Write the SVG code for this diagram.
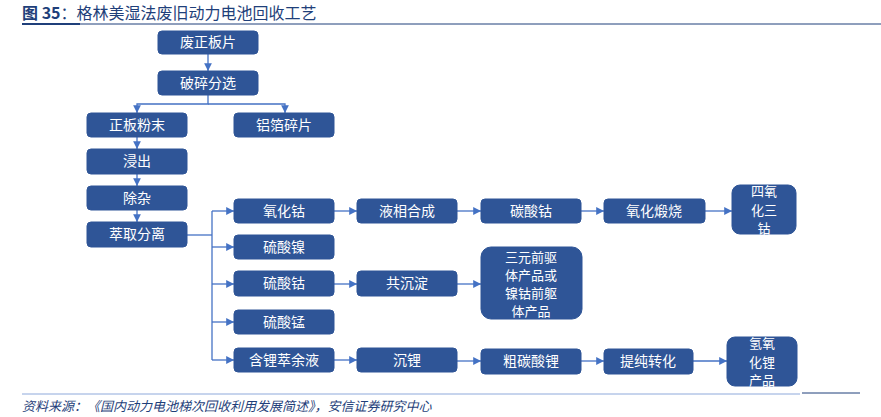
<svg xmlns="http://www.w3.org/2000/svg" width="881" height="417" viewBox="0 0 881 417">
<style>
.n rect{fill:#2f5597;stroke:#2f5597}
.n text{fill:#fff;font-family:"Noto Sans CJK SC",sans-serif;font-size:14px;text-anchor:middle}
.n .s{font-size:13px}
.c path{fill:none;stroke:#4472c4;stroke-width:1.3}
</style>
<defs><marker id="a" viewBox="0 0 10 10" refX="10" refY="5" markerWidth="6" markerHeight="6" orient="auto"><path d="M0,0L10,5L0,10z" fill="#4472c4"/></marker></defs>
<rect width="881" height="417" fill="#fff"/>
<text x="22" y="19" font-family="Noto Sans CJK SC,sans-serif" font-size="16" fill="#1f3f7a"><tspan font-weight="bold">图 35</tspan>：格林美湿法废旧动力电池回收工艺</text>
<line x1="22" y1="24" x2="881" y2="24" stroke="#1f3f7a" stroke-width="1"/>
<line x1="22" y1="24" x2="80" y2="24" stroke="#1f3f7a" stroke-width="2"/>
<g class="c">
<path d="M208,54V71" marker-end="url(#a)"/>
<path d="M208,95V104H137V113" marker-end="url(#a)"/>
<path d="M208,104H285V113" marker-end="url(#a)"/>
<path d="M137,137V149" marker-end="url(#a)"/>
<path d="M137,174V186" marker-end="url(#a)"/>
<path d="M137,210V222" marker-end="url(#a)"/>
<path d="M187,235H212"/>
<path d="M212,211V360"/>
<path d="M212,211H234" marker-end="url(#a)"/>
<path d="M212,247H234" marker-end="url(#a)"/>
<path d="M212,284H234" marker-end="url(#a)"/>
<path d="M212,322H234" marker-end="url(#a)"/>
<path d="M212,360H234" marker-end="url(#a)"/>
<path d="M334,211H357" marker-end="url(#a)"/>
<path d="M457,211H481" marker-end="url(#a)"/>
<path d="M581,211H604" marker-end="url(#a)"/>
<path d="M705,211H732" marker-end="url(#a)"/>
<path d="M334,284H357" marker-end="url(#a)"/>
<path d="M457,284H481" marker-end="url(#a)"/>
<path d="M334,360H357" marker-end="url(#a)"/>
<path d="M457,361H481" marker-end="url(#a)"/>
<path d="M581,361H604" marker-end="url(#a)"/>
<path d="M693,361H727" marker-end="url(#a)"/>
</g>
<g id="n1" class="n"><rect x="158" y="31" width="100" height="23" rx="4"/><text x="208" y="47">废正板片</text></g>
<g id="n2" class="n"><rect x="158" y="71" width="100" height="24" rx="4"/><text x="208" y="88">破碎分选</text></g>
<g id="n3" class="n"><rect x="87" y="113" width="100" height="24" rx="4"/><text x="137" y="130">正板粉末</text></g>
<g id="n4" class="n"><rect x="234" y="113" width="100" height="24" rx="4"/><text x="284" y="130">铝箔碎片</text></g>
<g id="n5" class="n"><rect x="87" y="149" width="100" height="25" rx="4"/><text x="137" y="166">浸出</text></g>
<g id="n6" class="n"><rect x="87" y="186" width="100" height="24" rx="4"/><text x="137" y="203">除杂</text></g>
<g id="n7" class="n"><rect x="87" y="222" width="100" height="25" rx="4"/><text x="137" y="239">萃取分离</text></g>
<g id="n8" class="n"><rect x="234" y="199" width="100" height="24" rx="4"/><text x="284" y="216">氧化钴</text></g>
<g id="n9" class="n"><rect x="357" y="199" width="100" height="24" rx="4"/><text x="407" y="216">液相合成</text></g>
<g id="n10" class="n"><rect x="481" y="199" width="100" height="24" rx="4"/><text x="531" y="216">碳酸钴</text></g>
<g id="n11" class="n"><rect x="604" y="199" width="101" height="24" rx="4"/><text x="654" y="216">氧化煅烧</text></g>
<g id="n12" class="n"><rect x="732" y="185" width="64" height="49" rx="8"/><text class="s" x="764" y="196">四氧</text><text class="s" x="764" y="215">化三</text><text class="s" x="764" y="233">钴</text></g>
<g id="n13" class="n"><rect x="234" y="235" width="100" height="24" rx="4"/><text x="284" y="252">硫酸镍</text></g>
<g id="n14" class="n"><rect x="234" y="271" width="100" height="25" rx="4"/><text x="284" y="288">硫酸钴</text></g>
<g id="n15" class="n"><rect x="357" y="271" width="100" height="25" rx="4"/><text x="407" y="288">共沉淀</text></g>
<g id="n16" class="n"><rect x="481" y="247" width="101" height="72" rx="10"/><text class="s" x="531" y="262">三元前驱</text><text class="s" x="531" y="280">体产品或</text><text class="s" x="531" y="298">镍钴前躯</text><text class="s" x="531" y="316">体产品</text></g>
<g id="n17" class="n"><rect x="234" y="310" width="100" height="24" rx="4"/><text x="284" y="327">硫酸锰</text></g>
<g id="n18" class="n"><rect x="234" y="348" width="100" height="24" rx="4"/><text x="284" y="365">含锂萃余液</text></g>
<g id="n19" class="n"><rect x="357" y="348" width="100" height="24" rx="4"/><text x="407" y="365">沉锂</text></g>
<g id="n20" class="n"><rect x="481" y="349" width="100" height="25" rx="4"/><text x="531" y="366">粗碳酸锂</text></g>
<g id="n21" class="n"><rect x="604" y="349" width="89" height="25" rx="4"/><text x="648" y="366">提纯转化</text></g>
<g id="n22" class="n"><rect x="727" y="337" width="70" height="49" rx="8"/><text class="s" x="762" y="348">氢氧</text><text class="s" x="762" y="367">化锂</text><text class="s" x="762" y="385">产品</text></g>
<line x1="22" y1="394" x2="800" y2="394" stroke="#8ea9db" stroke-width="1"/>
<line x1="802" y1="393" x2="860" y2="393" stroke="#1f3f7a" stroke-width="1"/>
<text x="22" y="411" font-family="Noto Sans CJK SC,sans-serif" font-size="13" font-style="italic" fill="#1f3f7a">资料来源：《国内动力电池梯次回收利用发展简述》，安信证券研究中心</text>
</svg>
